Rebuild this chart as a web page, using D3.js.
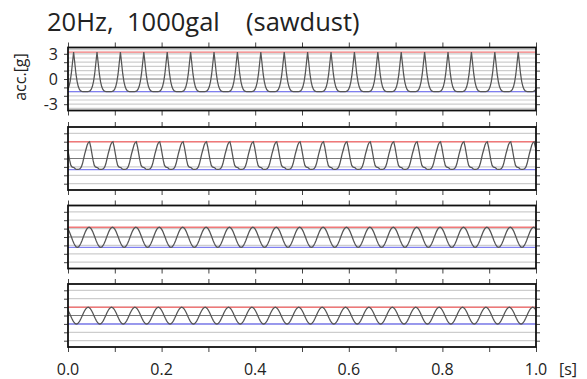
<!DOCTYPE html>
<html>
<head>
<meta charset="utf-8">
<script src="https://cdn.jsdelivr.net/npm/d3@7/dist/d3.min.js"></script>
<style>
  html, body { margin: 0; padding: 0; background: #fff; }
  svg { display: block; font-family: "Open Sans", "Noto Sans", sans-serif; }
</style>
</head>
<body>
<svg id="chart" width="587" height="379"></svg>
<script>
// ---- data ----
const titleParts = ["20Hz,", "1000gal", "(sawdust)"];
const yLabel = "acc.[g]";
const xUnit = "[s]";
const xTicks = [0, 0.1, 0.2, 0.3, 0.4, 0.5, 0.6, 0.7, 0.8, 0.9, 1.0];
const xTickLabels = ["0.0", "0.2", "0.4", "0.6", "0.8", "1.0"];
const yTicks = [-3, -2, -1, 0, 1, 2, 3];
const yTickLabels = ["-3", "0", "3"];
const fineGrid = [-3.5, -3, -2.5, -2, -1.5, -1, -0.5, 0, 0.5, 1, 1.5, 2, 2.5, 3, 3.5];
const coarseGrid = [-3, -2, -1, 0, 1, 2, 3];

// one measured cycle per panel (samples every 2.5 ms, 20 Hz => 20 samples / cycle)
const sampleStep = 0.0025;
const period = 0.05;
const cycle1 = [3.2, 1.9, 0.6, -0.3, -0.9, -1.25, -1.42, -1.48, -1.5, -1.5,
                -1.5, -1.5, -1.5, -1.48, -1.42, -1.25, -0.9, -0.3, 0.6, 1.9];
const cycle2 = [2.0, 1.4, 0.6, -0.2, -0.8, -1.0, -1.05, -1.1, -1.25, -1.3,
                -1.3, -1.28, -1.2, -1.0, -0.6, 0.0, 0.6, 1.1, 1.6, 1.9];
const cycle3 = [-1.24, -1.18, -1.01, -0.75, -0.41, -0.04, 0.33, 0.67, 0.93, 1.10,
                1.16, 1.10, 0.93, 0.67, 0.33, -0.04, -0.41, -0.75, -1.01, -1.18];
const cycle4 = [-1.02, -0.97, -0.83, -0.61, -0.33, -0.02, 0.29, 0.57, 0.79, 0.93,
                0.98, 0.93, 0.79, 0.57, 0.29, -0.02, -0.33, -0.61, -0.83, -0.97];
const cycleStart = [0.012, 0.046, 0.020, 0.018];   // time of first sample of each cycle
const maxLine = [3.2, 2.0, 1.16, 0.98];
const minLine = [-1.5, -1.32, -1.24, -1.02];
const cycles = [cycle1, cycle2, cycle3, cycle4];
const panelGrid = [fineGrid, coarseGrid, coarseGrid, coarseGrid];

// ---- layout ----
const svg = d3.select("#chart");
const left = 68, right = 536;
const panelTop = [47.5, 127, 205.5, 284];
const panelH = 63;
const x = d3.scaleLinear().domain([0, 1]).range([left, right]);

const titleX = [47, 127, 246];
svg.selectAll("text.title").data(titleParts).enter().append("text")
  .attr("x", (d, i) => titleX[i]).attr("y", 31)
  .attr("font-size", 25.5).attr("fill", "#222").text(d => d);

const defs = svg.append("defs");

cycles.forEach((cyc, i) => {
  const top = panelTop[i];
  const y = d3.scaleLinear().domain([-3.75, 3.75]).range([top + panelH, top]);
  const g = svg.append("g");

  // grid
  g.selectAll("line.grid").data(panelGrid[i]).enter().append("line")
    .attr("x1", left).attr("x2", right)
    .attr("y1", d => y(d)).attr("y2", d => y(d))
    .attr("stroke", d => d === 0 ? "#7a7a7a" : "#cdcdcd")
    .attr("stroke-width", 1.2);

  // max / min lines
  g.append("line").attr("x1", left).attr("x2", right)
    .attr("y1", y(maxLine[i])).attr("y2", y(maxLine[i]))
    .attr("stroke", "#f07878").attr("stroke-width", 1.4);
  g.append("line").attr("x1", left).attr("x2", right)
    .attr("y1", y(minLine[i])).attr("y2", y(minLine[i]))
    .attr("stroke", "#8080f0").attr("stroke-width", 1.4);

  // signal: measured cycle repeated every period
  const pts = [];
  for (let c = -1; c <= 20; c++) {
    cyc.forEach((v, k) => pts.push([cycleStart[i] + c * period + k * sampleStep, v]));
  }
  defs.append("clipPath").attr("id", "clip" + i).append("rect")
    .attr("x", left).attr("y", top).attr("width", right - left).attr("height", panelH);
  g.append("path").datum(pts)
    .attr("clip-path", `url(#clip${i})`)
    .attr("fill", "none").attr("stroke", "#555").attr("stroke-width", 1.25)
    .attr("d", d3.line().x(d => x(d[0])).y(d => y(d[1])));

  // axes (ticks only)
  const tickStyle = sel => {
    sel.select(".domain").remove();
    sel.selectAll(".tick line").attr("stroke", "#444").attr("stroke-width", 1);
    sel.selectAll(".tick text").remove();
  };
  g.append("g").attr("transform", `translate(0,${top})`)
    .call(d3.axisTop(x).tickValues(xTicks).tickSize(5)).call(tickStyle);
  g.append("g").attr("transform", `translate(0,${top + panelH})`)
    .call(d3.axisBottom(x).tickValues(xTicks).tickSize(5)).call(tickStyle);
  g.append("g").attr("transform", `translate(${left},0)`)
    .call(d3.axisLeft(y).tickValues(yTicks).tickSize(4)).call(tickStyle);
  g.append("g").attr("transform", `translate(${right},0)`)
    .call(d3.axisRight(y).tickValues(yTicks).tickSize(4)).call(tickStyle);

  // frame
  g.append("rect").attr("x", left).attr("y", top).attr("width", right - left).attr("height", panelH)
    .attr("fill", "none").attr("stroke", "#111").attr("stroke-width", 1.8);

  if (i === 0) {
    g.selectAll("text.ylab").data(yTickLabels).enter().append("text")
      .attr("x", 58).attr("y", d => y(+d)).attr("dy", "0.36em")
      .attr("text-anchor", "end").attr("font-size", 16).attr("fill", "#222").text(d => d);
    svg.append("text")
      .attr("transform", `translate(26,${y(0) - 2}) rotate(-90)`)
      .attr("text-anchor", "middle").attr("font-size", 16).attr("fill", "#222").text(yLabel);
  }
  if (i === 3) {
    g.selectAll("text.xlab").data(xTickLabels).enter().append("text")
      .attr("x", d => x(+d)).attr("y", 375)
      .attr("text-anchor", "middle").attr("font-size", 16).attr("fill", "#222").text(d => d);
    svg.append("text").attr("x", 559).attr("y", 375).attr("font-size", 16).attr("fill", "#222").text(xUnit);
  }
});
</script>
</body>
</html>
